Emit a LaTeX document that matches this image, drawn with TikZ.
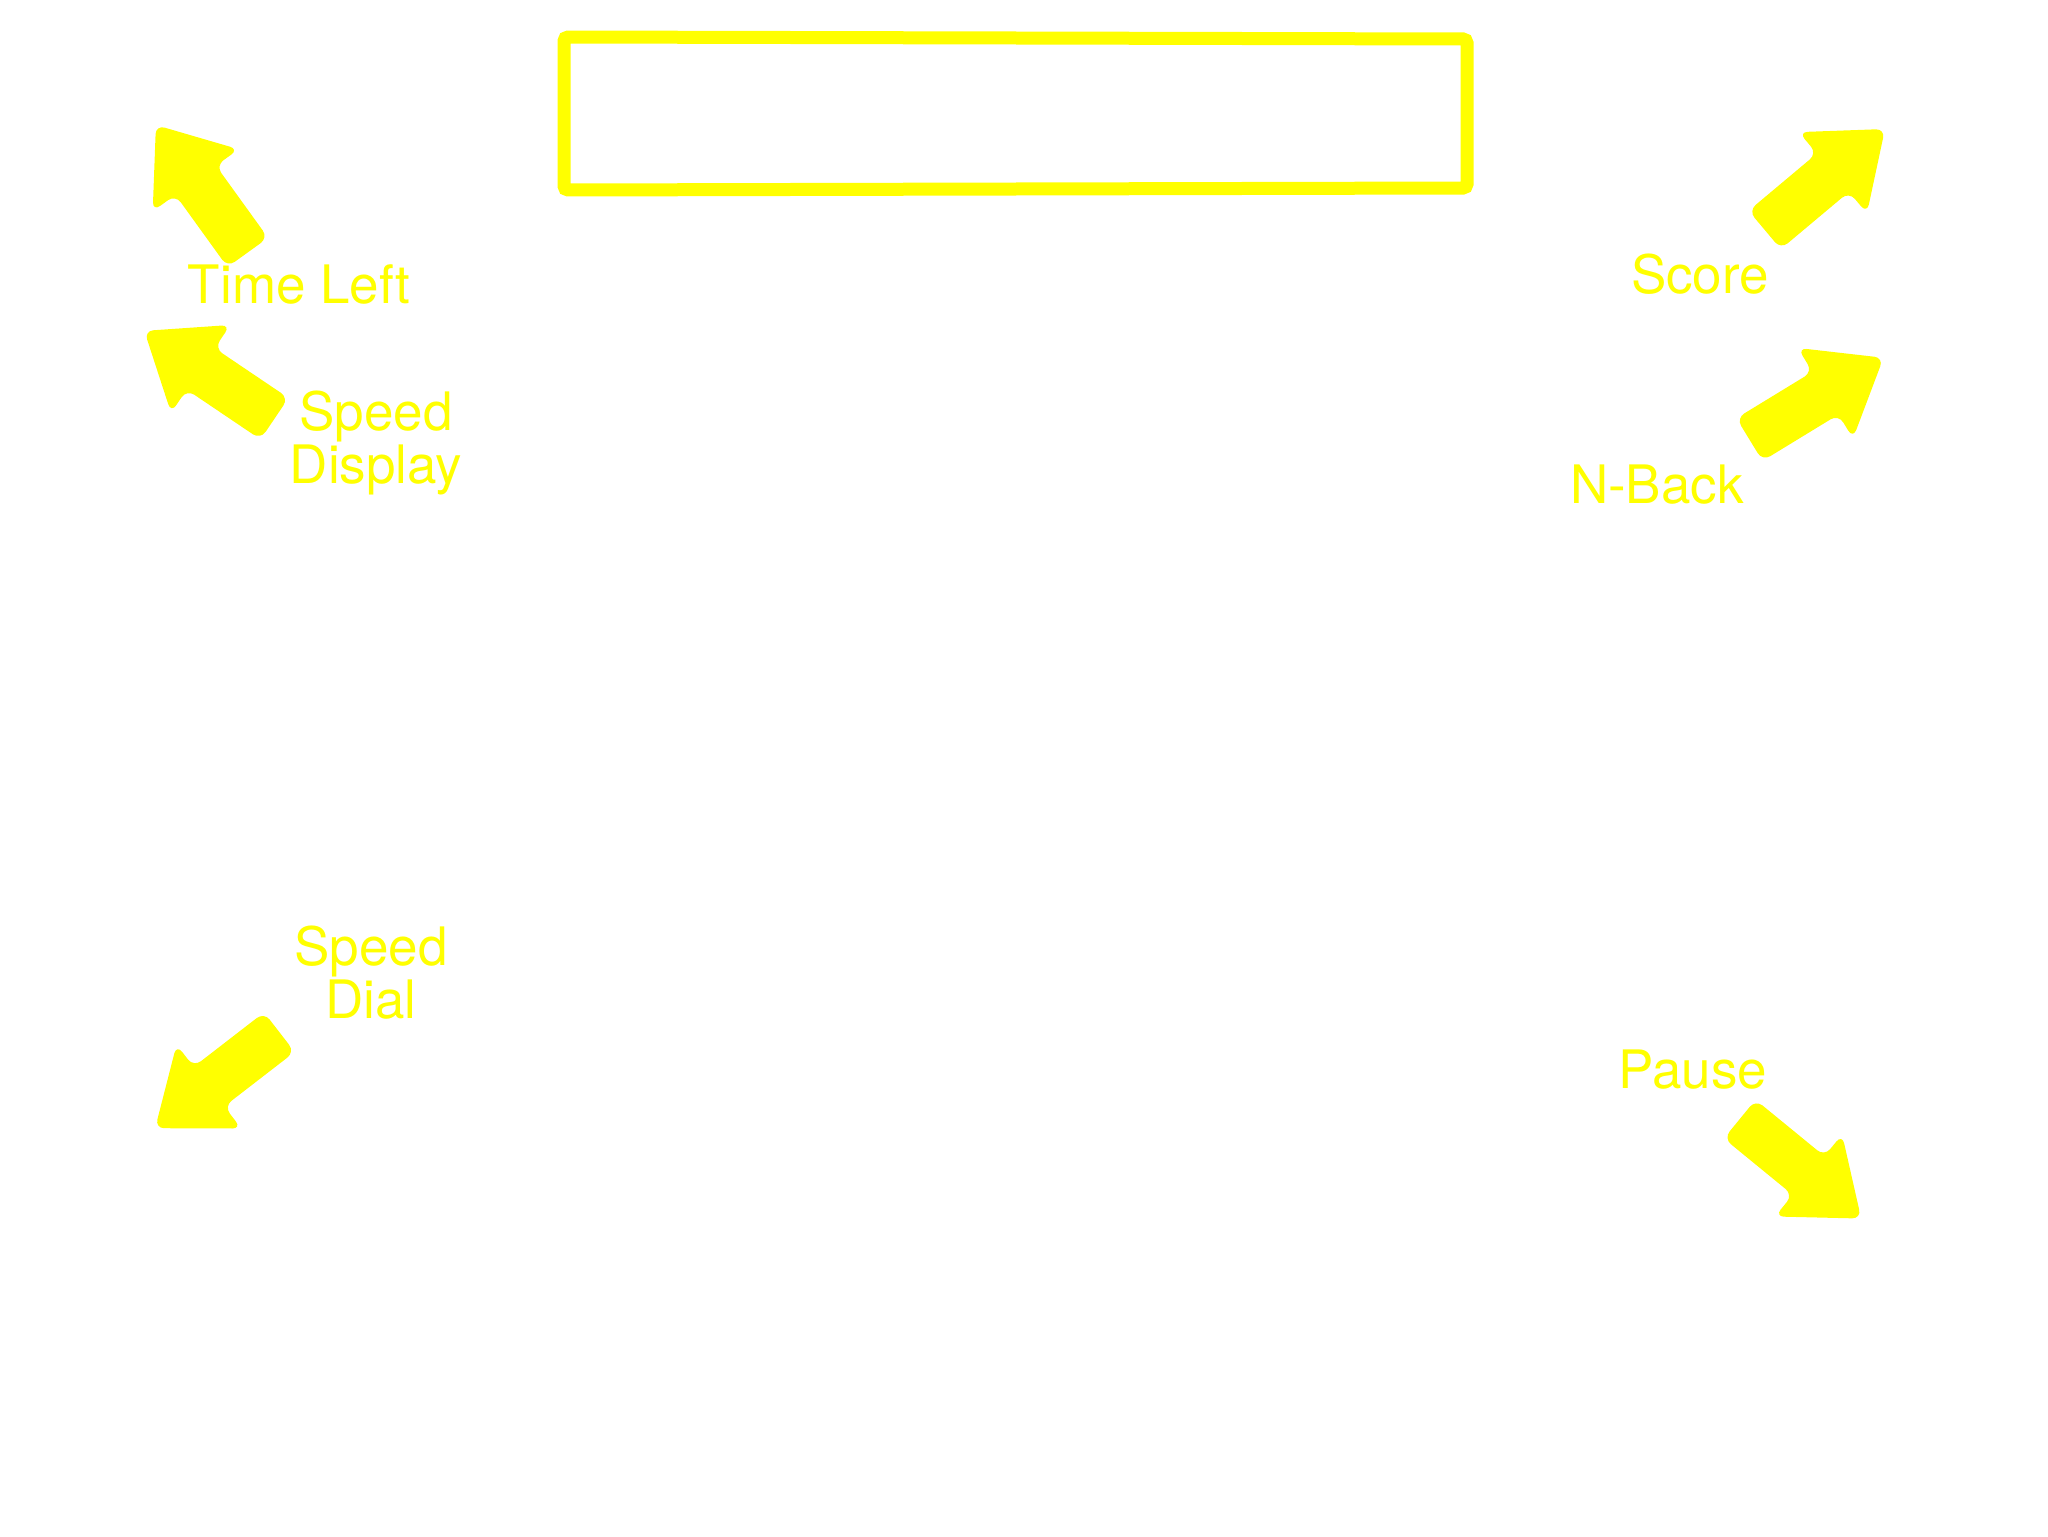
\documentclass[tikz,border=0pt]{standalone}
\usepackage{fontspec}
\setmainfont{TeX Gyre Heros}
\usepackage{tikz}
\usetikzlibrary{positioning}
\definecolor{hudyellow}{RGB}{255,255,0}
% one block arrow: back centre (#1,#2), direction #3
\newcommand{\hudarrow}[3]{%
  \fill[arrowfill, shift={(#1,#2)}, rotate=#3]
    (-3,-25) -- (86,-25) -- (86,-53) -- (154,0) -- (86,53) -- (86,25) -- (-3,25) -- cycle;}

\begin{document}
\begin{tikzpicture}[
  x=0.5pt, y=-0.5pt,
  arrowfill/.style={fill=hudyellow, rounded corners=4.5pt},
  frame/.style={draw=hudyellow, line width=6.5pt, rounded corners=2pt},
  lbl/.style={text=hudyellow, font=\fontsize{26.5}{23.5}\selectfont, align=center, inner sep=0pt, anchor=base}
]
\fill[white] (0,0) rectangle (2048,1536);
\useasboundingbox (0,0) rectangle (2048,1536);

% banner box
\draw[frame] (564,37) -- (1467,39) -- (1467,188) -- (564,190) -- cycle;

% labels (base = last line)
\node[lbl] (timeleft) at (299,303) {Time Left};
\node[lbl] (speeddisp) at (376,483) {Speed\\Display};
\node[lbl] (speeddial) at (371,1018) {Speed\\Dial};
\node[lbl] (score) at (1700,293) {Score};
\node[lbl] (nback) at (1657,503) {N-Back};
\node[lbl] (pause) at (1693,1088) {Pause};

% arrows
\hudarrow{246}{250}{125.8}
\hudarrow{272}{417}{146}
\hudarrow{277}{1034}{217.7}
\hudarrow{1767}{228}{40}
\hudarrow{1752}{438}{31.4}
\hudarrow{1742}{1121}{-39.3}

\end{tikzpicture}
\end{document}
